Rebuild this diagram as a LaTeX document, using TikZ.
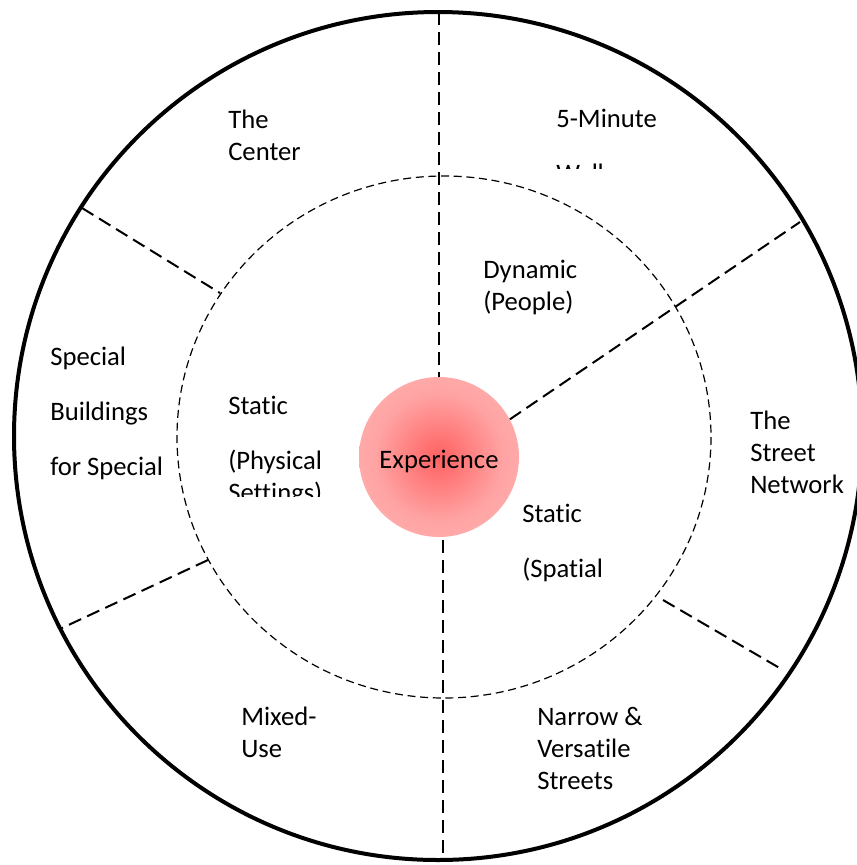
\documentclass[tikz,border=0pt]{standalone}
\usepackage{fontspec}
\setmainfont[Ligatures=NoCommon]{Carlito}
\pgfdeclareradialshading{expglow}{\pgfpoint{0bp}{0bp}}{color(0bp)=(red!62); color(20bp)=(red!36); color(50bp)=(red!22)}
\tikzset{
  ring/.style={line width=3pt},
  inring/.style={line width=0.9pt, dash pattern=on 6pt off 3.5pt},
  spoke/.style={line width=1.5pt, dash pattern=on 10pt off 5pt},
  words/.style={anchor=base west, align=left, inner sep=0pt, font=\fontsize{20}{24}\selectfont},
}
\begin{document}
\begin{tikzpicture}[x=0.75pt, y=-0.75pt]
    \useasboundingbox (0,0) rectangle (857,865);
    % outer ring and dashed inner ring
    \draw[ring] (438,436) circle[radius=424];
    \draw[inring] (444,437) ellipse[x radius=267, y radius=261];

    % the core
    \node[circle, minimum size=120pt, inner sep=0pt, shading=expglow,
          text height=16.5pt, text depth=0pt,
          font=\fontsize{20}{24}\selectfont] (exp) at (439,457) {Experience};

    % spoke ends
    \coordinate (topend) at (439,12);
    \coordinate (botstart) at (443,540);
    \coordinate (botend) at (443,860);
    \coordinate (ne) at (800,222);
    \coordinate (nwout) at (82,208);
    \coordinate (nwin) at (220,293);
    \coordinate (swin) at (208,560);
    \coordinate (swout) at (62,628);
    \coordinate (sein) at (663,600);
    \coordinate (seout) at (783,670);

    % spokes
    \draw[spoke] (topend) -- (exp.north);
    \draw[spoke] (botstart) -- (botend);
    \draw[spoke] (exp.28) -- (ne);
    \draw[spoke] (nwout) -- (nwin);
    \draw[spoke] (swin) -- (swout);
    \draw[spoke] (sein) -- (seout);

    % outer ring labels (anchored on the last line)
    \node[words] (center) at (228,160) {The\\Center};
    \begin{scope}
        \clip (540,60) rectangle (720,168);
        \node[words] (walk) at (556,182) {5-Minute\\[17pt]Walk};
    \end{scope}
    \node[words] (special) at (50,475) {Special\\[17pt]Buildings\\[17pt]for Special};
    \node[words] (street) at (750,493) {The\\Street\\Network};
    \node[words] (mixed) at (241,757) {Mixed-\\Use};
    \node[words] (narrow) at (537,789) {Narrow \&\\Versatile\\Streets};

    % inner ring labels
    \node[words] (people) at (483,310) {Dynamic\\(People)};
    \begin{scope}
        \clip (215,380) rectangle (345,496);
        \node[words] (physical) at (228,501) {Static\\[17pt](Physical\\Settings)};
    \end{scope}
    \node[words] (spatial) at (522,577) {Static\\[17pt](Spatial};
\end{tikzpicture}
\end{document}
